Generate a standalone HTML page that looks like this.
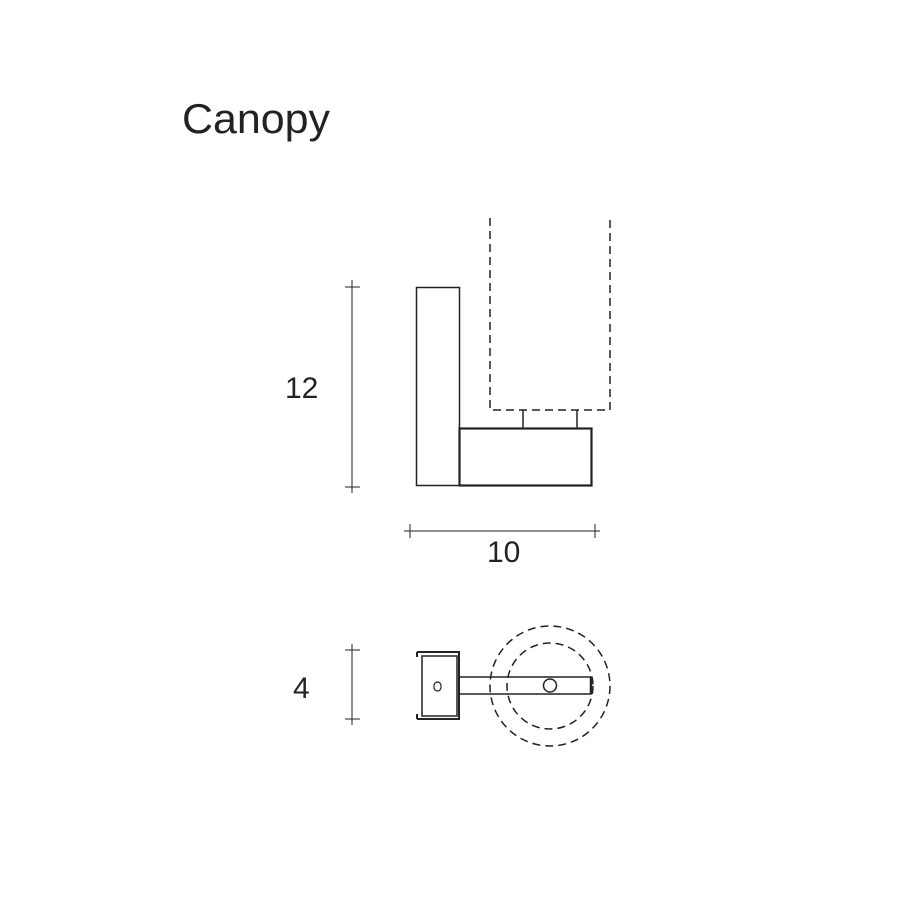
<!DOCTYPE html>
<html><head><style>body{margin:0;background:#fff}</style></head><body>
<svg width="900" height="900" xmlns="http://www.w3.org/2000/svg" style="display:block">
<rect width="900" height="900" fill="#fff"/>
<text x="182" y="133" font-family="Liberation Sans, sans-serif" font-size="42" fill="#222" textLength="148" lengthAdjust="spacingAndGlyphs">Canopy</text>
<g stroke="#222" fill="none" stroke-width="1.5">
<line x1="352" y1="280" x2="352" y2="493" stroke-width="1"/>
<line x1="345" y1="287" x2="360" y2="287" stroke-width="1"/>
<line x1="345" y1="487" x2="360" y2="487" stroke-width="1"/>
<line x1="404" y1="531" x2="600" y2="531" stroke-width="1"/>
<line x1="410" y1="524" x2="410" y2="538" stroke-width="1"/>
<line x1="595" y1="524" x2="595" y2="538" stroke-width="1"/>
<line x1="352" y1="644" x2="352" y2="725" stroke-width="1"/>
<line x1="345" y1="650" x2="360" y2="650" stroke-width="1"/>
<line x1="345" y1="719" x2="360" y2="719" stroke-width="1"/>
<rect x="416.5" y="287.5" width="43" height="198"/>
<rect x="459.5" y="428.5" width="132" height="57" stroke-width="2.2"/>
<line x1="523" y1="410" x2="523" y2="428"/>
<line x1="577" y1="410" x2="577" y2="428"/>
<path d="M490 218 V410 H610 V218" stroke-dasharray="8 5"/>
<path d="M417 652 H459 V719 H417 M417 652 V657 M417 719 V714" stroke-width="2"/>
<rect x="422" y="656" width="35" height="60"/>
<rect x="434" y="682" width="7" height="9" rx="3.5" stroke-width="1.2"/>
<rect x="459" y="677" width="132" height="17"/>
<line x1="591" y1="677" x2="591" y2="694" stroke-width="2.5"/>
<circle cx="550" cy="685.5" r="6.5"/>
<circle cx="550" cy="686" r="60" stroke-dasharray="8 5"/>
<circle cx="550" cy="686" r="43" stroke-dasharray="8 5"/>
</g>
<g font-family="Liberation Sans, sans-serif" font-size="30" fill="#222">
<text x="285" y="398">12</text>
<text x="487" y="562">10</text>
<text x="293" y="698">4</text>
</g>
</svg>
</body></html>
